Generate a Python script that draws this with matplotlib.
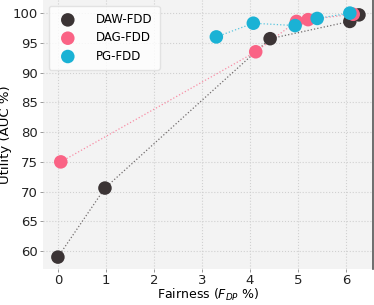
import matplotlib
matplotlib.use('Agg')
import matplotlib.pyplot as plt

# fairness (x) vs utility (y) for each method
daw_x = [0.0, 0.98, 4.42, 6.08, 6.27]
daw_y = [59.0, 70.6, 95.7, 98.6, 99.7]
dag_x = [0.06, 4.12, 4.97, 5.21, 6.15]
dag_y = [75.0, 93.5, 98.6, 98.9, 99.8]
pg_x = [3.3, 4.07, 4.94, 5.4, 6.08]
pg_y = [96.0, 98.3, 97.9, 99.1, 100.0]

COLORS = {'DAW-FDD': '#3b3435', 'DAG-FDD': '#fa6385', 'PG-FDD': '#1ab2d5'}

fig = plt.figure(figsize=(3.74, 3.05), dpi=100)
ax = fig.add_axes([0.115, 0.118, 0.882, 0.882])
ax.set_facecolor('#f3f3f3')

series = [('DAW-FDD', daw_x, daw_y), ('DAG-FDD', dag_x, dag_y), ('PG-FDD', pg_x, pg_y)]
for name, xs, ys in series:
    c = COLORS[name]
    ax.plot(xs, ys, linestyle=':', color=c, linewidth=0.9, alpha=0.7, zorder=2)
    ax.scatter(xs, ys, s=95, color=c, label=name, zorder=3, edgecolors='none')

ax.set_xlim(-0.31, 6.56)
ax.set_ylim(57.0, 102.2)
ax.set_xticks(range(0, 7))
ax.set_yticks(range(60, 101, 5))
ax.grid(True, linestyle=':', color='#d0d0d0', linewidth=0.8)
ax.set_axisbelow(True)
for side in ['left', 'top', 'bottom']:
    ax.spines[side].set_visible(False)
ax.spines['right'].set_color('#555555')
ax.spines['right'].set_linewidth(1.2)
ax.tick_params(colors='#222222', labelsize=9.5, length=2.5, width=0.6, pad=1.0)
ax.tick_params(axis='both', color='#888888')
ax.set_xlabel('Fairness ($F_{DP}$ %)', fontsize=9)
ax.set_ylabel('Utility (AUC %)', fontsize=9.5)
ax.xaxis.set_label_coords(0.5, -0.068)
ax.yaxis.set_label_coords(-0.095, 0.5)
leg = ax.legend(loc='upper left', fontsize=8.5, frameon=True, handletextpad=1.4,
                borderpad=0.6, labelspacing=0.45, bbox_to_anchor=(0.0, 1.0))
leg.get_frame().set_facecolor('white')
leg.get_frame().set_edgecolor('#dddddd')

fig.savefig('out.png', dpi=100)
